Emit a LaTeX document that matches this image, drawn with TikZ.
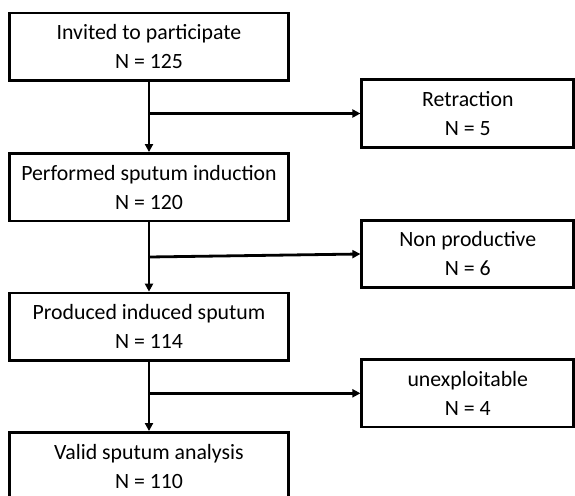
\documentclass[tikz,border=0pt]{standalone}
\usepackage{fontspec}
\setmainfont{Carlito}
\usetikzlibrary{arrows.meta}
\begin{document}
\begin{tikzpicture}[x=1pt,y=-1pt,
  box/.style={draw=black,line width=2.8pt,rectangle,align=center,inner sep=0pt,
    font=\fontsize{21.8}{29}\selectfont},
  lbox/.style={box,minimum width=279pt,minimum height=67.5pt},
  rbox/.style={box,minimum width=212pt,minimum height=67.5pt},
  conn/.style={line width=2.8pt,-{Triangle[length=8pt,width=8pt]}}]
\useasboundingbox (0,0) rectangle (575,495);
\node[lbox] (b1) at (149,46.8) {Invited to participate\\N = 125};
\node[lbox] (b2) at (149,187.2) {Performed sputum induction\\N = 120};
\node[lbox] (b3) at (149,326.8) {Produced induced sputum\\N = 114};
\node[lbox] (b4) at (149,466.2) {Valid sputum analysis\\N = 110};
\node[rbox] (r1) at (467.8,113.5) {Retraction\\N = 5};
\node[rbox] (r2) at (467.8,254) {Non productive\\N = 6};
\node[rbox] (r3) at (467.8,393.3) {unexploitable\\N = 4};
\draw[conn] (b1.south) -- (b2.north);
\draw[conn] (b2.south) -- (b3.north);
\draw[conn] (b3.south) -- (b4.north);
\coordinate (j1) at (b1.south |- r1.west);
\coordinate (j2) at (149,257);
\coordinate (j3) at (b3.south |- r3.west);
\draw[conn] (j1) -- (r1.west);
\draw[conn] (j2) -- (r2.west);
\draw[conn] (j3) -- (r3.west);
\end{tikzpicture}
\end{document}
